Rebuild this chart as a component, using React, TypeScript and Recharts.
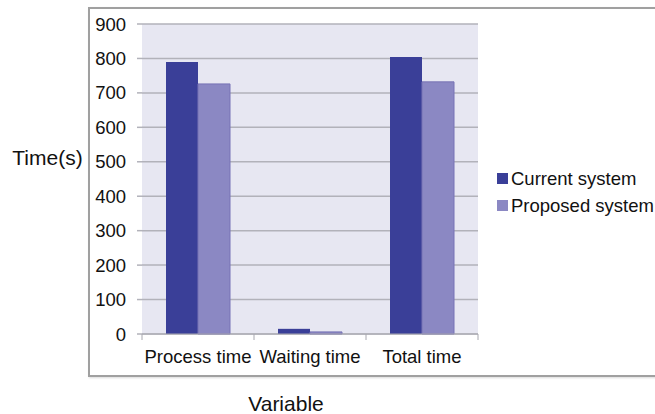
import { BarChart, Bar, XAxis, YAxis, CartesianGrid, Legend } from "recharts";

const categories = ["Process time", "Waiting time", "Total time"];
const currentSystem = [790, 15, 804];
const proposedSystem = [726, 6, 732];
const yTicks = [0, 100, 200, 300, 400, 500, 600, 700, 800, 900];

const data = categories.map((name, i) => ({
  name,
  current: currentSystem[i],
  proposed: proposedSystem[i],
}));

const FONT = "'Liberation Sans', Arial, sans-serif";
const FS = 18.5;
const TITLE_FS = 21;

function XTick(props: any) {
  const { x, y, payload, index } = props;
  const off = payload.offset ?? 0;
  return (
    <g>
      <line x1={x - off} x2={x - off} y1={y} y2={y + 6} stroke="#a8a8b0" />
      {index === categories.length - 1 && (
        <line x1={x + off} x2={x + off} y1={y} y2={y + 6} stroke="#a8a8b0" />
      )}
      <text x={x} y={y + 29} textAnchor="middle" fontSize={FS} fontFamily={FONT} fill="#111">
        {payload.value}
      </text>
    </g>
  );
}

function LegendBox({ payload }: any) {
  return (
    <div style={{ fontFamily: FONT, fontSize: FS, color: "#111" }}>
      {(payload || []).map((p: any) => (
        <div key={p.value} style={{ display: "flex", alignItems: "center", height: 27 }}>
          <span style={{ width: 11, height: 11, background: p.color, marginRight: 3, display: "inline-block" }} />
          <span>{p.value}</span>
        </div>
      ))}
    </div>
  );
}

export default function App() {
  return (
    <div style={{ position: "absolute", left: 0, top: 0, width: 655, height: 414, background: "#fff", overflow: "hidden" }}>
      <div
        style={{
          position: "absolute",
          left: 88,
          top: 7,
          width: 620,
          height: 366,
          border: "2px solid #a0a0a0",
          boxShadow: "1px 1px 2px rgba(0,0,0,0.15)",
        }}
      />
      <div style={{ position: "absolute", left: 0, top: 0 }}>
        <BarChart
          width={655}
          height={414}
          data={data}
          margin={{ top: 24, right: 177, bottom: 50, left: 0 }}
          barCategoryGap={24}
          barGap={0}
        >
          <CartesianGrid vertical={false} fill="#e7e7f2" stroke="#b2b2ba" strokeWidth={1.5} />
          <XAxis
            dataKey="name"
            height={30}
            tickSize={0}
            tickMargin={0}
            tick={<XTick />}
            axisLine={{ stroke: "#a8a8b0" }}
            interval={0}
            label={{
              content: ({ viewBox }: any) => (
                <text
                  x={viewBox.x + viewBox.width / 2 - 24}
                  y={411}
                  textAnchor="middle"
                  fontSize={TITLE_FS}
                  fontFamily={FONT}
                  fill="#111"
                >
                  Variable
                </text>
              ),
            }}
          />
          <YAxis
            width={142}
            domain={[0, 900]}
            ticks={yTicks}
            interval={0}
            axisLine={false}
            tickSize={5}
            tickMargin={11}
            tickLine={{ stroke: "#b2b2ba", strokeWidth: 1.5 }}
            tick={{ fontSize: FS, fontFamily: FONT, fill: "#111" }}
            label={{
              content: () => (
                <text x={47.5} y={165} textAnchor="middle" fontSize={TITLE_FS} fontFamily={FONT} fill="#111">
                  Time(s)
                </text>
              ),
            }}
          />
          <Legend
            layout="horizontal"
            verticalAlign="middle"
            align="center"
            content={<LegendBox />}
            wrapperStyle={{ position: "absolute", left: 497, top: 165, width: "auto" }}
          />
          <Bar dataKey="current" name="Current system" fill="#3a3f98" isAnimationActive={false} />
          <Bar
            dataKey="proposed"
            name="Proposed system"
            fill="#8b88c3"
            stroke="#7773b5"
            strokeWidth={1}
            isAnimationActive={false}
          />
        </BarChart>
      </div>
    </div>
  );
}
